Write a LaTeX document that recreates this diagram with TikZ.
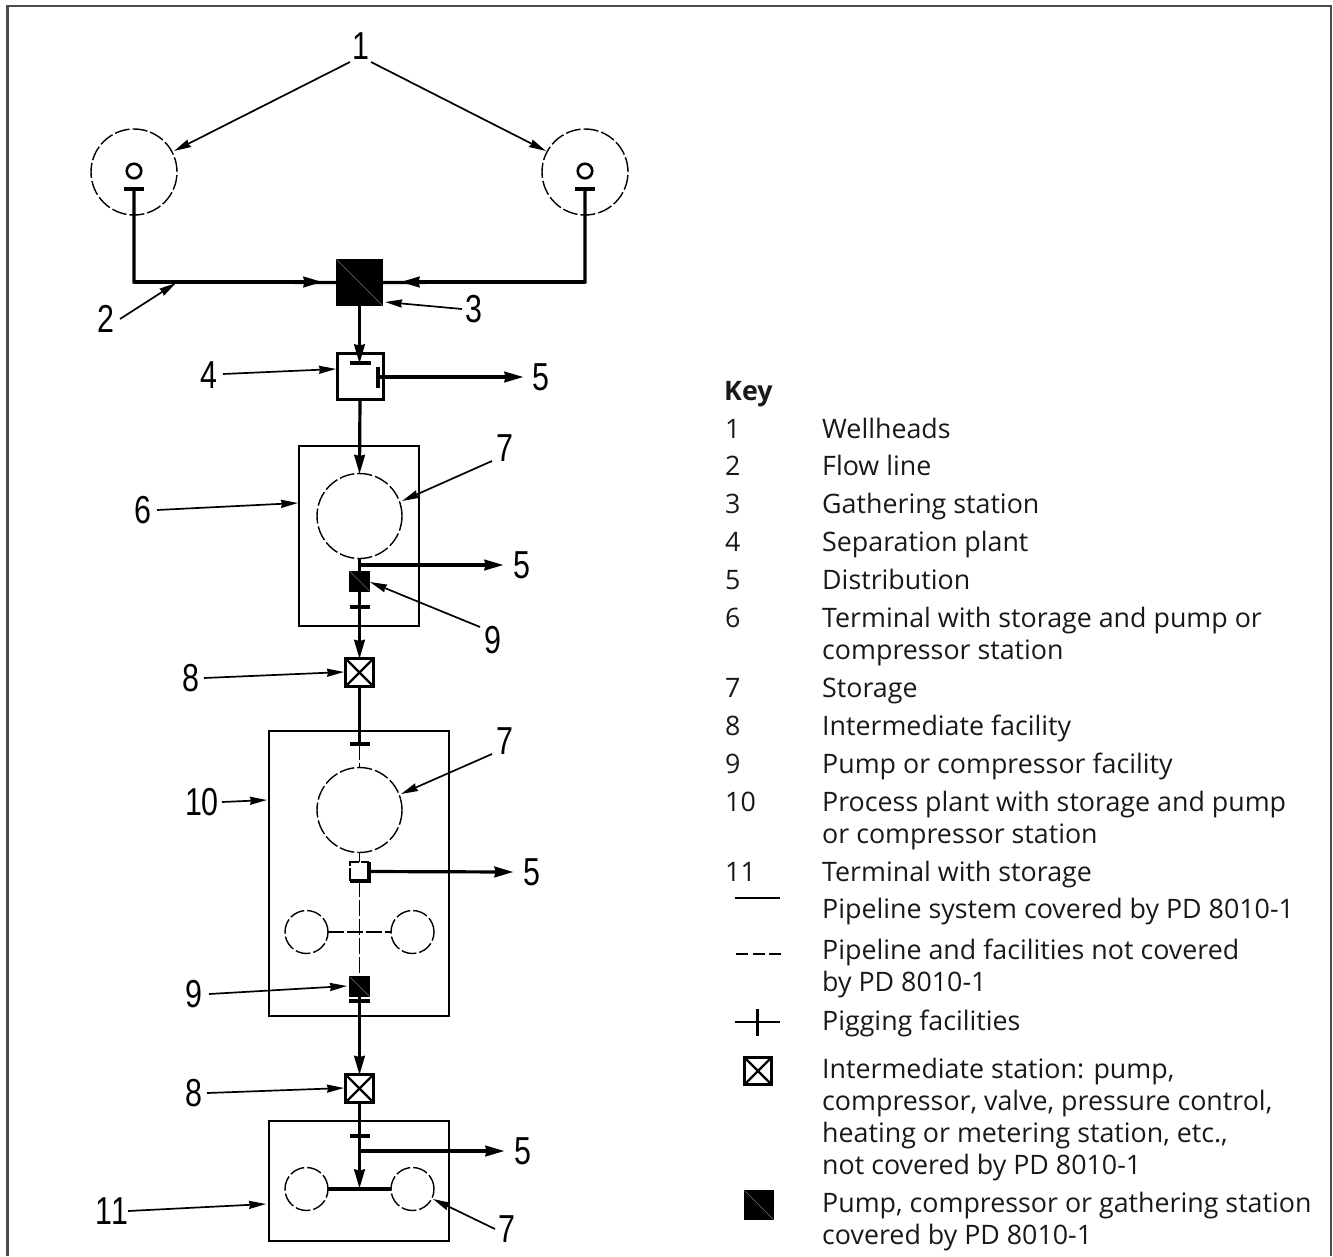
\documentclass[tikz,border=0pt]{standalone}
\usepackage{fontspec}
\usetikzlibrary{arrows.meta,calc}
\setmainfont{Open Sans}
\newfontfamily\digfont[FakeStretch=0.78]{Liberation Sans}
\tikzset{
  pipe/.style={line width=3.2pt,black},
  pipearrow/.style={pipe,-{Stealth[inset=1pt,length=19pt,width=10.5pt]},shorten >=-0.5pt},
  thin dash/.style={line width=1.4pt,dash pattern=on 16pt off 3pt},
  leader/.style={line width=1.7pt,-{Stealth[inset=1pt,length=17pt,width=8pt]}},
  frame/.style={line width=2.2pt,draw=black!70},
  plant/.style={rectangle,draw,line width=2.9pt,inner sep=0,outer sep=0},
  sq/.style={rectangle,inner sep=0,outer sep=0,minimum size=#1},
  store/.style={circle,draw,line width=1.4pt,dash pattern=on 15pt off 3pt,inner sep=0,outer sep=0,minimum size=#1},
  small o/.style={circle,draw,line width=2.6pt,inner sep=0,outer sep=0,minimum size=14.5pt},
  dig/.style={font=\digfont\fontsize{39}{39}\selectfont,inner sep=0,outer sep=0,anchor=center},
  keyt/.style={font=\fontsize{26.8}{32}\selectfont,inner sep=0,anchor=base west,text=black!90},
}
\newcommand{\blacksq}[4]{% name, x, y, size
  \node[sq=#4,fill=black,draw=black,line width=1pt] (#1) at (#2,#3) {};
  \draw[black!55,line width=0.5pt] (#1.north west) -- (#1.south east);}
\newcommand{\crosssq}[4]{%
  \node[sq=#4,draw=black,fill=white,line width=3pt] (#1) at (#2,#3) {};
  \draw[line width=2.2pt] (#1.north west) -- (#1.south east) (#1.north east) -- (#1.south west);}
\begin{document}
\begin{tikzpicture}[x=1pt,y=-1pt]
\useasboundingbox (0,0) rectangle (1333,1256);
% frame
\coordinate (fa) at (7.5,1256);
\coordinate (fb) at (7.5,6);
\coordinate (fc) at (1331,6);
\coordinate (fd) at (1331,1256);
\draw[frame] (fa) -- (fb) -- (fc) -- (fd);

% wellheads
\node[store=86pt] (wl) at (134,172) {};
\node[store=86pt] (wr) at (585,172) {};
\node[small o] (ol) at (134,171) {};
\node[small o] (or) at (585,171) {};
\coordinate (pl) at (134,189);
\coordinate (pr) at (585,189);
\draw[pipe] ($(pl)+(-10,0)$) -- ($(pl)+(10,0)$);
\draw[pipe] ($(pr)+(-10,0)$) -- ($(pr)+(10,0)$);
\coordinate (cl) at (134,282);
\coordinate (cr) at (585,282);

% stations
\blacksq{s3}{359.5}{282.5}{46pt}
\node[sq=46pt,draw,line width=3pt] (s4) at (360,376) {};
\node[plant,minimum width=120pt,minimum height=180pt] (b6) at (359,536) {};
\node[store=85pt] (c6) at (359.5,516) {};
\blacksq{p6}{359.5}{581}{20pt}
\crosssq{x1}{359.5}{672.5}{28pt}
\node[plant,minimum width=180pt,minimum height=285pt] (b10) at (359,873.5) {};
\node[store=85pt] (c10) at (359.5,810) {};
\node[sq=19pt,fill=white] (w10) at (359.5,871.5) {};
\node[store=43pt] (sl10) at (306.5,932) {};
\node[store=43pt] (sr10) at (412.5,932) {};
\blacksq{p10}{359.5}{986.5}{20pt}
\crosssq{x2}{359.5}{1088.5}{28pt}
\node[plant,minimum width=180pt,minimum height=120pt] (b11) at (359,1181) {};
\node[store=43pt] (sl11) at (306.5,1189) {};
\node[store=43pt] (sr11) at (412.5,1189) {};

% flow lines to gathering station
\coordinate (al) at (322,282);
\coordinate (ar) at (401,282);
\draw[pipe,line join=miter] (pl) -- (cl) -- (s3.west);
\draw[pipe,line join=miter] (pr) -- (cr) -- (s3.east);
\draw[pipearrow] (cl) -- (al);
\draw[pipearrow] (cr) -- (ar);

% separation plant
\coordinate (t4) at (359.5,363);
\draw[pipearrow] (s3.south) -- (t4);
\coordinate (b4n) at (350,363);
\coordinate (b4s) at (371,363);
\draw[pipe] (b4n) -- (b4s);
\coordinate (v4a) at (378,367);
\coordinate (v4b) at (378,388);
\draw[pipe] (v4a) -- (v4b);
\coordinate (o4) at (378,377);
\node[dig] (d5a) at (541,377) {5};
\draw[pipearrow] (o4) -- ($(d5a.center)+(-18,0)$);

% terminal 6
\draw[pipearrow] (s4.south) -- (c6.north);
\coordinate (j6) at (359.5,565);
\draw[pipe] (c6.south) -- (p6.north);
\node[dig] (d5b) at (522,565) {5};
\draw[pipearrow] (j6) -- ($(d5b.center)+(-19,0)$);
\coordinate (g6) at (359.5,607);
\draw[pipe] ($(g6)+(-10,0)$) -- ($(g6)+(10,0)$);
\draw[pipearrow] (p6.south) -- (x1.north);

% process plant 10
\coordinate (g10) at (359.5,744);
\draw[pipe] (x1.south) -- (g10);
\draw[pipe] ($(g10)+(-10,0)$) -- ($(g10)+(10,0)$);
\draw[thin dash] (g10) -- (c10.north);
\draw[line width=1.4pt] (c10.south) -- (w10.north);
\draw[pipe] (w10.north east) -- (w10.south east) -- (w10.south west);
\draw[line width=1.4pt,dash pattern=on 13pt off 2pt] (w10.south west) -- (w10.north west) -- (w10.north east);
\node[dig] (d5c) at (532,872) {5};
\draw[pipearrow] (w10.east) -- ($(d5c.center)+(-19,0)$);
\draw[thin dash] (w10.south) -- (p10.north);
\draw[thin dash] (sl10.east) -- (sr10.west);
\coordinate (g10b) at (359.5,1001);
\draw[pipe] ($(g10b)+(-10.5,0)$) -- ($(g10b)+(10.5,0)$);
\draw[pipearrow] (p10.south) -- (x2.north);

% terminal 11
\coordinate (g11) at (359.5,1136);
\draw[pipe] (x2.south) -- (g11);
\draw[pipe] ($(g11)+(-10,0)$) -- ($(g11)+(10,0)$);
\coordinate (j11) at (359.5,1151);
\coordinate (i11) at (359.5,1189);
\node[dig] (d5d) at (523,1151) {5};
\draw[pipearrow] (j11) -- ($(d5d.center)+(-19,0)$);
\draw[pipearrow] (g11) -- ($(i11)+(0,-1)$);
\draw[pipe] (sl11.east) -- (sr11.west);

% reference numbers
\node[dig] (d1) at (361,46) {1};
\node[dig] (d2) at (106,319) {2};
\node[dig] (d3) at (474,309) {3};
\node[dig] (d4) at (209,375) {4};
\node[dig] (d6) at (143,510) {6};
\node[dig] (d7a) at (505,448) {7};
\node[dig] (d9a) at (493,640) {9};
\node[dig] (d8a) at (191,678) {8};
\node[dig] (d7b) at (505,741) {7};
\node[dig] (d10) at (202,802) {1\kern-1.5pt 0};
\node[dig] (d9b) at (194,994) {9};
\node[dig] (d8b) at (194,1093) {8};
\node[dig] (d11) at (112,1211) {1\kern-1pt 1};
\node[dig] (d7c) at (507,1229) {7};

% leaders
\coordinate (q1) at (350,62);  \coordinate (q1r) at (371,62);
\coordinate (tw1) at (174,151); \coordinate (tw2) at (546,151);
\draw[leader] (q1) -- (tw1);
\draw[leader] (q1r) -- (tw2);
\coordinate (q2) at (120,319);  \coordinate (t2) at (176,283);
\draw[leader] (q2) -- (t2);
\coordinate (q3) at (462,309);  \coordinate (t3) at (385,302);
\draw[leader] (q3) -- (t3);
\coordinate (q4) at (223,374);  \coordinate (t4l) at (336,369);
\draw[leader] (q4) -- (t4l);
\coordinate (q6) at (157,510);  \coordinate (t6) at (298,503);
\draw[leader] (q6) -- (t6);
\coordinate (q7a) at (492,461); \coordinate (t7a) at (402,501);
\draw[leader] (q7a) -- (t7a);
\coordinate (q9a) at (480,627); \coordinate (t9a) at (370,582);
\draw[leader] (q9a) -- (t9a);
\coordinate (q8a) at (204,678); \coordinate (t8a) at (344,672);
\draw[leader] (q8a) -- (t8a);
\coordinate (q7b) at (492,754); \coordinate (t7b) at (401,794);
\draw[leader] (q7b) -- (t7b);
\coordinate (q10) at (222,802); \coordinate (t10) at (267,800);
\draw[leader] (q10) -- (t10);
\coordinate (q9b) at (209,994); \coordinate (t9b) at (347,986);
\draw[leader] (q9b) -- (t9b);
\coordinate (q8b) at (207,1093); \coordinate (t8b) at (344,1088);
\draw[leader] (q8b) -- (t8b);
\coordinate (q11) at (128,1211); \coordinate (t11) at (266,1204);
\draw[leader] (q11) -- (t11);
\coordinate (q7c) at (495,1229); \coordinate (t7c) at (433,1199);
\draw[leader] (q7c) -- (t7c);

% key
\node[keyt,font=\fontsize{26.8}{32}\selectfont\bfseries] (kh) at (724,400) {Key};
\node[keyt] (k1) at (725,438) {1};   \node[keyt] (v1) at (822,438) {Wellheads};
\node[keyt] (k2) at (725,475) {2};   \node[keyt] (v2) at (822,475) {Flow line};
\node[keyt] (k3) at (725,513) {3};   \node[keyt] (v3) at (822,513) {Gathering station};
\node[keyt] (k4) at (725,551) {4};   \node[keyt] (v4) at (822,551) {Separation plant};
\node[keyt] (k5) at (725,589) {5};   \node[keyt] (v5) at (822,589) {Distribution};
\node[keyt] (k6) at (725,627) {6};   \node[keyt] (v6) at (822,627) {Terminal with storage and pump or};
\node[keyt] (v6b) at (822,659) {compressor station};
\node[keyt] (k7) at (725,697) {7};   \node[keyt] (v7) at (822,697) {Storage};
\node[keyt] (k8) at (725,735) {8};   \node[keyt] (v8) at (822,735) {Intermediate facility};
\node[keyt] (k9) at (725,773) {9};   \node[keyt] (v9) at (822,773) {Pump or compressor facility};
\node[keyt] (k10) at (725,811) {10}; \node[keyt] (v10) at (822,811) {Process plant with storage and pump};
\node[keyt] (v10b) at (822,843) {or compressor station};
\node[keyt] (k11) at (725,881) {11}; \node[keyt] (v11) at (822,881) {Terminal with storage};
\node[keyt] (v12) at (822,918) {Pipeline system covered by PD 8010-1};
\node[keyt] (v13) at (822,959) {Pipeline and facilities not covered};
\node[keyt] (v13b) at (822,991) {by PD 8010-1};
\node[keyt] (v14) at (822,1030) {Pigging facilities};
\node[keyt] (v15) at (822,1078) {Intermediate station: pump,};
\node[keyt] (v15b) at (822,1110) {compressor, valve, pressure control,};
\node[keyt] (v15c) at (822,1142) {heating or metering station, etc.,};
\node[keyt] (v15d) at (822,1174) {not covered by PD 8010-1};
\node[keyt] (v16) at (822,1212) {Pump, compressor or gathering station};
\node[keyt] (v16b) at (822,1244) {covered by PD 8010-1};

% key symbols
\coordinate (ls1) at (735,898); \coordinate (ls2) at (780,898);
\draw[line width=2.8pt] (ls1) -- (ls2);
\coordinate (ld1) at (736,954); \coordinate (ld2) at (781,954);
\draw[line width=1.3pt,dash pattern=on 12pt off 4.5pt] (ld1) -- (ld2);
\coordinate (lp1) at (735,1022); \coordinate (lp2) at (780,1022);
\coordinate (lp3) at (757.5,1009); \coordinate (lp4) at (757.5,1036);
\draw[line width=2.4pt] (lp1) -- (lp2);
\draw[line width=2.4pt] (lp3) -- (lp4);
\crosssq{kx}{758}{1071}{27pt}
\blacksq{kb}{759}{1205}{29pt}
\end{tikzpicture}
\end{document}
